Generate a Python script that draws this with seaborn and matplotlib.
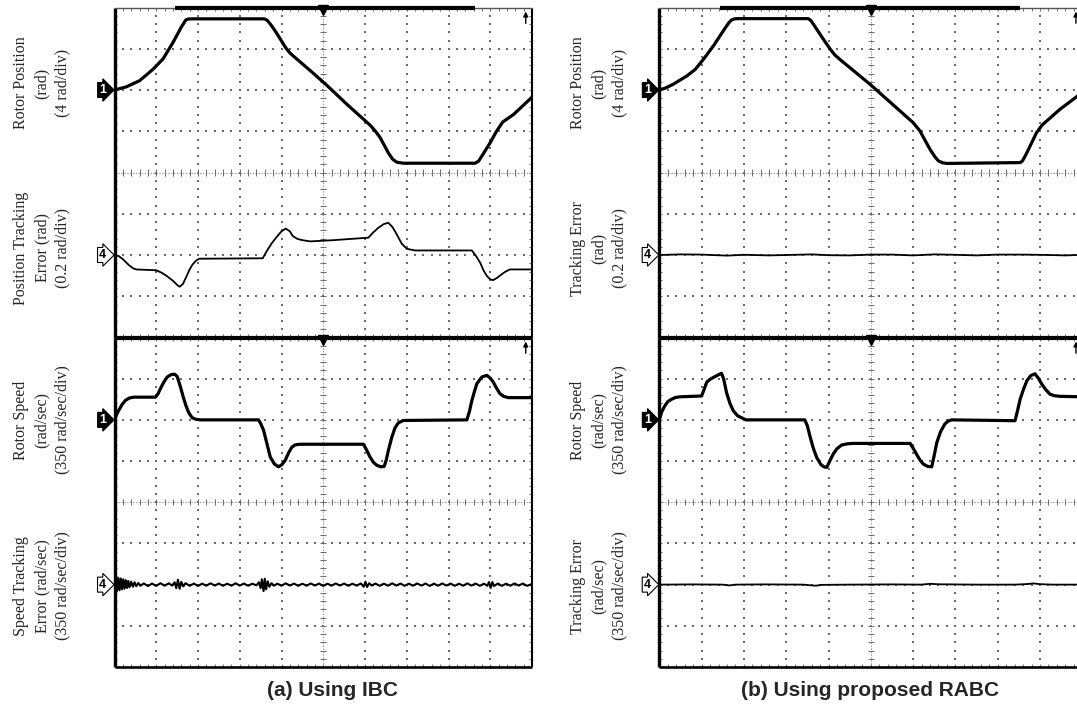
import numpy as np
import pandas as pd
import matplotlib
matplotlib.use("Agg")
import matplotlib.pyplot as plt
from matplotlib.collections import LineCollection
import seaborn as sns

sns.set_style("white")
plt.rcParams["font.family"] = ["Liberation Serif", "DejaVu Serif"]

# ---------------- measured traces: (time [div], value) ----------------
# (a) IBC
pos_ibc = [(0, 0), (0.28, 0.3), (0.6, 0.9), (0.92, 2.0), (1.16, 3.0), (1.4, 4.6), (1.6, 6.1),
           (1.71, 6.8), (1.76, 6.88), (1.85, 6.9), (3.59, 6.9), (3.66, 6.75), (3.75, 6.3),
           (3.87, 5.6), (4.1, 4.1), (4.2, 3.6), (4.31, 3.2), (4.74, 1.7), (5.1, 0.4),
           (5.57, -1.4), (5.9, -2.6), (6.12, -3.4), (6.25, -4.0), (6.36, -4.6), (6.56, -6.1),
           (6.66, -6.7), (6.76, -7.0), (6.92, -7.1), (8.64, -7.1), (8.72, -6.9), (8.8, -6.4),
           (9.0, -5.1), (9.15, -4.0), (9.3, -3.1), (9.55, -2.4), (10.0, -0.7)]  # rad

perr_ibc = [(0, 0), (0.1, -0.005), (0.2, -0.02), (0.35, -0.05), (0.45, -0.065), (0.52, -0.07),
            (1.0, -0.074), (1.12, -0.085), (1.24, -0.1), (1.4, -0.125), (1.5, -0.145),
            (1.56, -0.154), (1.64, -0.14), (1.71, -0.11), (1.8, -0.07), (1.87, -0.046),
            (1.95, -0.028), (2.03, -0.018), (3.55, -0.016), (3.65, 0.02), (3.76, 0.055),
            (3.87, 0.084), (4.0, 0.115), (4.1, 0.128), (4.2, 0.115), (4.27, 0.092), (4.38, 0.078),
            (4.5, 0.072), (4.69, 0.066), (5.25, 0.072), (6.08, 0.084), (6.2, 0.11), (6.32, 0.132),
            (6.45, 0.15), (6.56, 0.156), (6.66, 0.135), (6.76, 0.1), (6.88, 0.055), (7.0, 0.03),
            (7.2, 0.022), (8.56, 0.022), (8.66, -0.005), (8.76, -0.038), (8.84, -0.075),
            (8.92, -0.102), (9.0, -0.118), (9.07, -0.122), (9.17, -0.11), (9.27, -0.094),
            (9.37, -0.08), (9.47, -0.07), (10.0, -0.07)]  # rad

spd_ibc = [(0, 0), (0.05, 45), (0.1, 80), (0.18, 130), (0.26, 165), (0.35, 185), (0.46, 193),
           (0.98, 193), (1.04, 220), (1.1, 266), (1.18, 320), (1.26, 364), (1.36, 385), (1.44, 388),
           (1.5, 370), (1.58, 280), (1.65, 190), (1.71, 122), (1.78, 60), (1.86, 18), (1.95, 5),
           (2.06, 0), (3.45, 0), (3.5, -30), (3.57, -88), (3.65, -200), (3.73, -315), (3.83, -375),
           (3.93, -399), (4.01, -380), (4.09, -343), (4.17, -280), (4.25, -231), (4.33, -212),
           (4.45, -207), (5.96, -207), (6.03, -250), (6.12, -315), (6.2, -360), (6.28, -385),
           (6.38, -399), (6.46, -395), (6.51, -340), (6.56, -259), (6.64, -150), (6.72, -67),
           (6.8, -25), (6.92, -5), (8.44, 0), (8.5, 70), (8.56, 165), (8.62, 240), (8.68, 308),
           (8.8, 365), (8.92, 378), (9.0, 355), (9.07, 322), (9.15, 270), (9.23, 224), (9.32, 200),
           (9.43, 189), (10.0, 189)]  # rad/sec

serr_ibc = [(0, 0), (0.03, 60), (0.06, -55), (0.09, 58), (0.12, -48), (0.15, 52), (0.18, -40),
            (0.21, 45), (0.24, -35), (0.27, 38), (0.30, -28), (0.33, 32), (0.36, -22), (0.40, 25),
            (0.44, -18), (0.48, 20), (0.52, -14), (0.57, 14), (0.62, -10), (0.7, 10), (0.8, -12),
            (0.9, 9), (1.0, -11), (1.1, 12), (1.2, -9), (1.3, 11), (1.38, -8), (1.44, 20),
            (1.48, -30), (1.52, 42), (1.56, -35), (1.6, 24), (1.65, -15), (1.7, 12), (1.8, -10),
            (1.9, 9), (2.0, -11), (2.1, 8), (2.2, -9), (2.3, 11), (2.4, -8), (2.5, 9), (2.6, -10),
            (2.7, 8), (2.8, -9), (2.9, 11), (3.0, -8), (3.1, 9), (3.2, -10), (3.3, 8), (3.4, -6),
            (3.46, 20), (3.5, -30), (3.53, 45), (3.57, -55), (3.6, 50), (3.63, -40), (3.67, 28),
            (3.71, -18), (3.76, 12), (3.82, -9), (3.9, 8), (4.0, -9), (4.1, 11), (4.2, -8),
            (4.3, 9), (4.4, -10), (4.5, 8), (4.6, -9), (4.7, 10), (4.8, -8), (4.9, 9), (5.0, -11),
            (5.1, 8), (5.2, -9), (5.3, 10), (5.4, -8), (5.5, 9), (5.6, -10), (5.7, 8), (5.8, -9),
            (5.9, 10), (5.97, -18), (6.01, 25), (6.05, -20), (6.1, 12), (6.16, -8), (6.25, 9),
            (6.35, -10), (6.45, 8), (6.55, -9), (6.65, 11), (6.75, -8), (6.85, 9), (6.95, -10),
            (7.05, 8), (7.15, -9), (7.25, 10), (7.35, -8), (7.45, 9), (7.55, -11), (7.65, 8),
            (7.75, -9), (7.85, 10), (7.95, -8), (8.05, 9), (8.15, -10), (8.25, 8), (8.35, -9),
            (8.45, 10), (8.55, -8), (8.65, 9), (8.75, -10), (8.85, 8), (8.93, -10), (8.97, 22),
            (9.01, -28), (9.05, 22), (9.09, -12), (9.18, 9), (9.28, -10), (9.38, 8), (9.48, -9),
            (9.58, 10), (9.68, -8), (9.78, 9), (9.88, -10), (10.0, 5)]  # rad/sec

# (b) proposed RABC
pos_rabc = [(0, 0), (0.15, 0.2), (0.33, 0.56), (0.65, 1.36), (0.85, 2.0), (1.04, 2.96),
            (1.28, 4.28), (1.51, 5.72), (1.64, 6.5), (1.71, 6.8), (1.78, 6.9), (1.85, 6.92),
            (3.52, 6.92), (3.58, 6.75), (3.64, 6.4), (3.72, 5.9), (3.85, 5.1), (4.04, 3.96),
            (4.15, 3.4), (4.27, 2.96), (4.98, 0.56), (6.0, -3.16), (6.16, -3.96), (6.4, -5.76),
            (6.52, -6.5), (6.6, -6.88), (6.7, -7.06), (6.79, -7.12), (8.53, -7.04), (8.58, -6.9),
            (8.61, -6.7), (8.69, -6.08), (8.92, -4.12), (9.05, -3.4), (9.16, -3.0), (9.47, -1.88),
            (9.87, -0.64), (10.0, -0.24)]  # rad

perr_rabc = [(0, 0), (0.5, 0.003), (1.0, 0.002), (1.6, -0.003), (2.0, 0.001), (2.6, -0.002),
             (3.0, 0.0), (3.6, 0.003), (4.0, -0.001), (4.5, -0.002), (5.0, 0.002), (5.5, 0.002),
             (6.0, -0.002), (6.5, 0.003), (7.0, 0.001), (7.5, -0.002), (8.0, 0.002), (8.6, 0.002),
             (9.2, 0.0), (9.6, -0.002), (10.0, 0.001)]  # rad

spd_rabc = [(0, 0), (0.06, 70), (0.13, 119), (0.2, 155), (0.29, 175), (0.38, 190), (0.49, 196),
            (1.0, 203), (1.05, 250), (1.12, 319), (1.2, 345), (1.28, 361), (1.38, 380), (1.47, 396),
            (1.52, 350), (1.59, 231), (1.67, 140), (1.75, 77), (1.85, 35), (1.99, 10), (2.05, 0),
            (3.44, 0), (3.5, -50), (3.56, -137), (3.64, -240), (3.72, -319), (3.82, -380),
            (3.9, -400), (3.96, -403), (4.03, -350), (4.11, -291), (4.2, -245), (4.31, -214),
            (4.45, -203), (4.59, -200), (5.93, -200), (6.0, -240), (6.08, -291), (6.16, -340),
            (6.24, -375), (6.34, -395), (6.44, -399), (6.5, -300), (6.56, -193), (6.65, -100),
            (6.75, -35), (6.83, -10), (6.91, 0), (8.41, -7), (8.47, 80), (8.53, 175), (8.61, 260),
            (8.69, 333), (8.78, 375), (8.88, 392), (8.96, 355), (9.04, 305), (9.14, 255),
            (9.24, 217), (9.35, 205), (9.47, 200), (10.0, 196)]  # rad/sec

serr_rabc = [(0, 0), (0.8, 2), (1.5, 0), (1.65, -7), (1.8, 0), (2.5, 2), (3.4, 0), (3.55, -5),
             (3.7, -9), (3.85, -2), (4.5, 0), (5.5, 2), (6.2, 0), (6.4, 7), (6.6, 3), (7.5, 0),
             (8.4, 0), (8.7, 5), (8.85, 10), (9.0, 4), (9.3, 0), (10.0, 0)]  # rad/sec

# channel sensitivities
POS_DIV, POS_ERR_DIV, SPD_DIV, SPD_ERR_DIV = 4.0, 0.2, 350.0, 350.0

captions = ["(a) Using IBC", "(b) Using proposed RABC"]
labels_ibc = ["Rotor Position\n(rad)\n(4 rad/div)",
              "Position Tracking\nError (rad)\n(0.2 rad/div)",
              "Rotor Speed\n(rad/sec)\n(350 rad/sec/div)",
              "Speed Tracking\nError (rad/sec)\n(350 rad/sec/div)"]
labels_rabc = ["Rotor Position\n(rad)\n(4 rad/div)",
               "Tracking Error\n(rad)\n(0.2 rad/div)",
               "Rotor Speed\n(rad/sec)\n(350 rad/sec/div)",
               "Tracking Error\n(rad/sec)\n(350 rad/sec/div)"]

# ---------------- figure ----------------
W, H = 1077, 714
fig = plt.figure(figsize=(W / 100, H / 100), dpi=100)


def rect(x0, x1, y0, y1):
    return [x0 / W, 1 - y1 / H, (x1 - x0) / W, (y1 - y0) / H]


GRID = "#6a6a6a"


def screen(ax, top_thick):
    ax.set_xlim(0, 10)
    ax.set_ylim(-4, 4)
    ax.set_xticks([])
    ax.set_yticks([])
    for s in ax.spines.values():
        s.set_visible(False)
    ax.patch.set_alpha(0)
    mx = np.round(np.arange(0, 10.001, 0.2), 3)
    my = np.round(np.arange(-4, 4.001, 0.2), 3)
    xs, ys = [], []
    for k in range(1, 10):
        if k != 5:
            xs += [k] * len(my)
            ys += list(my)
    for k in range(-3, 4):
        if k != 0:
            xs += list(mx)
            ys += [k] * len(mx)
    ax.scatter(xs, ys, s=0.9, marker="s", color=GRID, linewidths=0, zorder=1)
    # centre graticule
    ax.plot([5, 5], [-4, 4], color="#9a9a9a", lw=0.7, ls=(0, (1.5, 1.5)), zorder=1)
    ax.plot([0, 10], [0, 0], color="#9a9a9a", lw=0.7, ls=(0, (1.5, 1.5)), zorder=1)
    segs = [[(x, -0.075), (x, 0.075)] for x in mx] + [[(4.93, y), (5.07, y)] for y in my]
    segs += [[(x, -4), (x, -3.92)] for x in mx] + [[(x, 4), (x, 3.92)] for x in mx]
    segs += [[(0, y), (0.06, y)] for y in my] + [[(10, y), (9.94, y)] for y in my]
    ax.add_collection(LineCollection(segs, colors=GRID, linewidths=0.7, zorder=1))
    # frame
    ax.plot([0, 0], [-4, 4], color="black", lw=2.4, clip_on=False, zorder=5, solid_capstyle="butt")
    ax.plot([0, 10], [-4, -4], color="black", lw=1.9, clip_on=False, zorder=5, solid_capstyle="butt")
    ax.plot([10, 10], [-4, 4], color="black", lw=1.5, clip_on=False, zorder=5, solid_capstyle="butt")
    ax.plot([0, 10], [4, 4], color="#555555", lw=1.0, clip_on=False, zorder=5)
    ax.plot(top_thick, [4, 4], color="black", lw=3.0, clip_on=False, zorder=5, solid_capstyle="butt")
    # trigger position and level indicators
    ax.plot([5], [3.93], marker="v", ms=7, color="black", clip_on=False, zorder=6)
    ax.annotate("", xy=(9.85, 3.97), xytext=(9.85, 3.55),
                arrowprops=dict(arrowstyle="-|>", color="black", lw=1.0, mutation_scale=7),
                annotation_clip=False, zorder=6)


def channel(ax, pts, per_div, ground, lw):
    cax = ax.twinx()
    cax.set_ylim((-4 - ground) * per_div, (4 - ground) * per_div)
    df = pd.DataFrame(pts, columns=["t", "v"])
    sns.lineplot(data=df, x="t", y="v", ax=cax, color="black", linewidth=lw,
                 estimator=None, sort=False, solid_joinstyle="round")
    cax.set_xlim(0, 10)
    cax.axis("off")


def marker(ax, label, ground, filled):
    ax.text(-0.2, ground, label, ha="right", va="center", fontsize=9, fontweight="bold",
            family=["Liberation Sans", "DejaVu Sans"],
            color="white" if filled else "black", clip_on=False, zorder=7,
            bbox=dict(boxstyle="rarrow,pad=0.12", fc="black" if filled else "white",
                      ec="black", lw=0.8))


cols = [
    dict(x0=114.5, x1=532.0, thick_top=[1.45, 8.63], labx=42,
         traces=[(pos_ibc, 2.3), (perr_ibc, 1.3), (spd_ibc, 2.3), (serr_ibc, 1.5)],
         labels=labels_ibc, caption=captions[0], capx=332),
    dict(x0=659.3, x1=1082.3, thick_top=[1.43, 8.53], labx=599,
         traces=[(pos_rabc, 2.3), (perr_rabc, 1.3), (spd_rabc, 2.3), (serr_rabc, 1.3)],
         labels=labels_rabc, caption=captions[1], capx=870),
]
scales = [POS_DIV, POS_ERR_DIV, SPD_DIV, SPD_ERR_DIV]
label_y = [83, 248, 420, 586]

for c in cols:
    ax_top = fig.add_axes(rect(c["x0"], c["x1"], 7.5, 337.5))
    ax_bot = fig.add_axes(rect(c["x0"], c["x1"], 337.5, 667.0))
    screen(ax_top, c["thick_top"])
    screen(ax_bot, [0, 10])
    for i, ax in enumerate([ax_top, ax_top, ax_bot, ax_bot]):
        pts, lw = c["traces"][i]
        ground = 2 if i % 2 == 0 else -2
        channel(ax, pts, scales[i], ground, lw)
    for ax in (ax_top, ax_bot):
        marker(ax, "1", 2, True)
        marker(ax, "4", -2, False)
    for i, lab in enumerate(c["labels"]):
        fig.text(c["labx"] / W, 1 - label_y[i] / H, lab, rotation=90, ha="center", va="center",
                 multialignment="center", fontsize=11.5, linespacing=1.4)
    fig.text(c["capx"] / W, 1 - 690 / H, c["caption"], ha="center", va="center",
             fontsize=15, fontweight="bold", family=["Liberation Sans", "DejaVu Sans"])

fig.savefig("out.png", dpi=100)
